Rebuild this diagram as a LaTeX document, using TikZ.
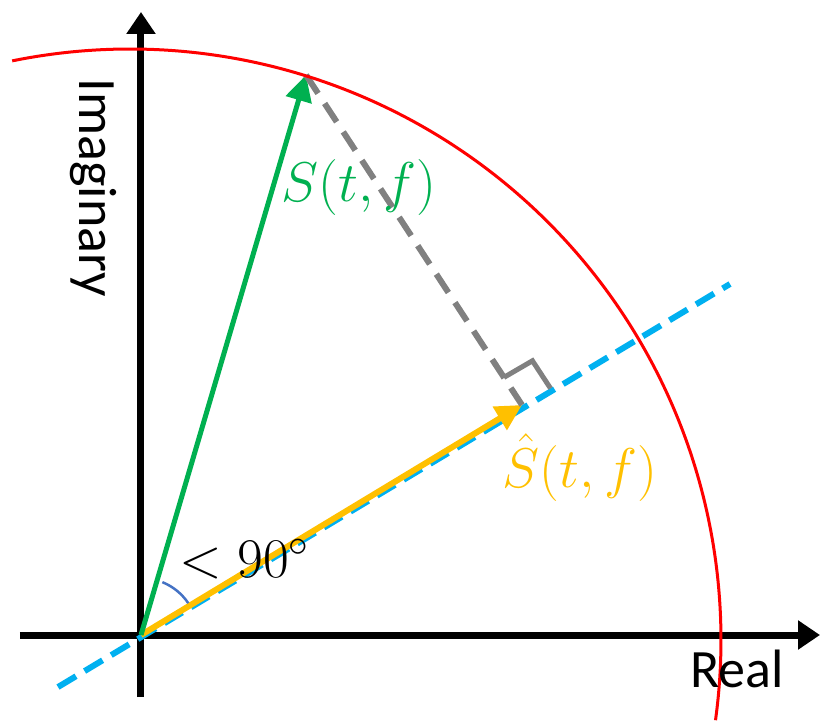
\documentclass[tikz,border=0pt]{standalone}
\usepackage{fix-cm}
\usepackage{fontspec}
\setmainfont{Carlito}
\usepackage{xcolor}
\usetikzlibrary{arrows.meta,calc}
\definecolor{sgreen}{HTML}{00B050}
\definecolor{syellow}{HTML}{FFC000}
\definecolor{sblue}{HTML}{00B0F0}
\definecolor{sgray}{HTML}{808080}
\definecolor{sarc}{HTML}{4472C4}

\begin{document}
\begin{tikzpicture}[x=1pt,y=1pt,
    axis/.style={line width=7pt,-{Triangle[length=22pt,width=28pt]}},
    vec/.style={line width=5pt,-{Triangle[length=26pt,width=26pt]}},
    lbl/.style={inner sep=0pt,font=\fontsize{54}{60}\selectfont},
    mlbl/.style={inner sep=0pt,font=\fontsize{56}{62}\selectfont}]
    \useasboundingbox (-141,-86) rectangle (679,635);
    % Fixed coordinates
    \coordinate (O) at (0,0);
    \coordinate (xl) at (-121,0);
    \coordinate (xr) at (679,0);
    \coordinate (yb) at (0,-62);
    \coordinate (yt) at (0,623);
    \coordinate (S) at (165,560);
    \coordinate (P) at (381,230);
    \coordinate (bl) at (-83,-52);
    \coordinate (br) at (589,351);
    
    % Axes
    \draw[axis] (xl) -- (xr);
    \draw[axis] (yb) -- (yt);
    
    % Projection line
    \draw[sblue,line width=6pt,dash pattern=on 21pt off 10pt] (bl) -- (br);
    
    % Vectors
    \draw[vec,syellow,line width=6pt] (O) -- (P);
    \draw[vec,sgreen] (O) -- (S);
    \draw[sgray,line width=6pt,dash pattern=on 22pt off 12pt] (S) -- (P);
    
    % Right angle mark
    \coordinate (m1) at ($(P)!33pt!(S)$);
    \coordinate (m2) at ($(P)!33pt!(br)$);
    \draw[sgray,line width=5pt] (m1) -- ($(m1)+(m2)-(P)$) -- (m2);
    
    % Circle of constant magnitude
    \draw[red,line width=3pt] (-11,-5) ++(101.5:591) arc[start angle=101.5,end angle=-7.8,radius=591];
    
    % Angle
    \draw[sarc,line width=2.5pt] (O) ++(68:57) arc[start angle=68,end angle=34,radius=57];
    
    % Labels
    \node[lbl,rotate=-90,anchor=base] (imag) at (-61,447) {Imaginary};
    \node[lbl,anchor=base] (real) at (596,-52) {Real};
    \node[mlbl,text=sgreen,anchor=base] (slbl) at (218,433) {$S(t,f)$};
    \node[mlbl,text=syellow,anchor=base] (shat) at (439,148) {$\hat{S}(t,f)$};
    \node[mlbl,anchor=base west] (ang) at (38,58) {$<90^\circ$};
\end{tikzpicture}
\end{document}
